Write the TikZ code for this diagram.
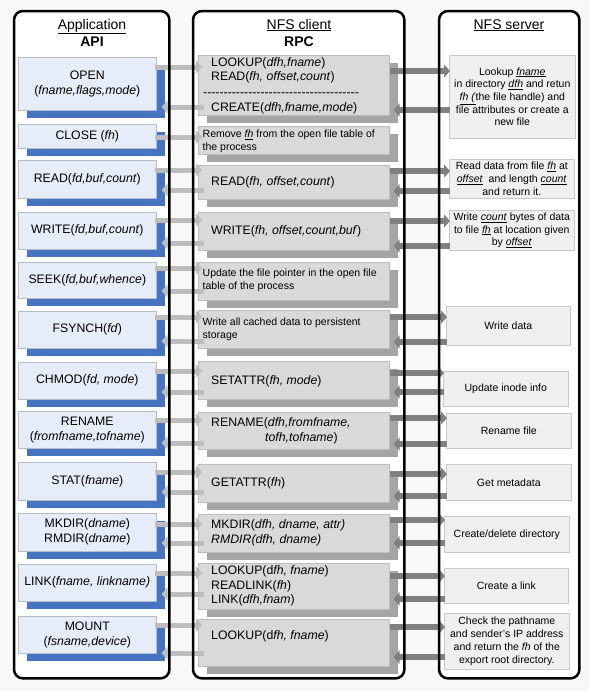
\documentclass[tikz,border=0pt]{standalone}
\usepackage{fontspec}
\setmainfont{Liberation Sans}
\newfontfamily\nolig{Liberation Sans}
\usetikzlibrary{arrows.meta,shadows}
\definecolor{bgc}{HTML}{F8F8F8}
\definecolor{apifill}{HTML}{E7EDF8}
\definecolor{apiline}{HTML}{B4BCCB}
\definecolor{apishadow}{HTML}{4674C1}
\definecolor{clifill}{HTML}{D9D9D9}
\definecolor{cliline}{HTML}{BDBDBD}
\definecolor{clishadow}{HTML}{A5A5A5}
\definecolor{srvfill}{HTML}{EFEFEF}
\definecolor{srvline}{HTML}{C9C9C9}
\definecolor{arrlight}{HTML}{BDBDBD}
\definecolor{arrdark}{HTML}{808080}
\newcommand\fMain{\fontsize{12.3pt}{15pt}\selectfont}
\newcommand\fCli{\fontsize{12.3pt}{14.6pt}\selectfont}
\newcommand\fSmall{\fontsize{10.5pt}{12.7pt}\selectfont}
\newcommand\fHead{\fontsize{14pt}{16pt}\selectfont}
\newcommand\boxat[7]{\node[#1, anchor=north west, minimum width=#4-#2, minimum height=#5-#3] (#6) at (#2,#3) {#7};}
\begin{document}
\begin{tikzpicture}[x=1pt,y=-1pt,
  panelbg/.style={fill=white, rounded corners=9pt, inner sep=0pt, anchor=north west},
  panelline/.style={draw=black, line width=2.5pt, rounded corners=9pt},
  head/.style={font=\fHead, inner sep=0pt, anchor=base},
  apibox/.style={draw=apiline, fill=apifill, line width=0.6pt, inner sep=0pt, align=center, font=\fMain,
    general shadow={fill=apishadow, shadow xshift=8.5pt, shadow yshift=-8pt}},
  clibox/.style={draw=cliline, fill=clifill, line width=0.6pt, inner sep=0pt,
    general shadow={fill=clishadow, shadow xshift=8.5pt, shadow yshift=-7.5pt}},
  srvbox/.style={draw=srvline, fill=srvfill, line width=0.6pt, inner sep=0pt, align=center, font=\fSmall},
  ctext/.style={anchor=west, inner sep=0pt, align=left, font=\fCli},
  cstext/.style={anchor=west, inner sep=0pt, align=left, font=\fSmall},
  larr/.style={draw=arrlight, line width=5pt, -{Triangle[width=13pt,length=6pt]}},
  darr/.style={draw=arrdark, line width=6pt, -{Triangle[width=13pt,length=6pt]}},
  fwdL/.style={larr, shorten <=-2pt, shorten >=-4pt},
  bckL/.style={larr, shorten <=-6pt, shorten >=5pt},
  fwdD/.style={darr, shorten >=-1pt},
  bckD/.style={darr, shorten <=-1pt, shorten >=4pt}
]
\path[use as bounding box, fill=bgc] (0,0) rectangle (590,691);

% panels (background)
\node[panelbg, minimum width=155, minimum height=667] (p1) at (14,11) {};
\node[panelbg, minimum width=211, minimum height=667] (p2) at (193,11) {};
\node[panelbg, minimum width=140, minimum height=667] (p3) at (439,11) {};

% headers
\node[head] (h1) at (92,29) {\underline{Application}};
\node[head] (h1b) at (92,46) {\textbf{API}};
\node[head] (h2) at (299,29) {\underline{NFS client}};
\node[head] (h2b) at (299,46) {\textbf{RPC}};
\node[head] (h3) at (509,29) {\underline{NFS server}};

% API boxes
\boxat{apibox}{18}{57}{156}{110}{a1}{OPEN\\(\textit{fname,flags,mode})}
\boxat{apibox}{18}{124}{156}{148}{a2}{CLOSE (\textit{fh})}
\boxat{apibox}{18}{160}{156}{198}{a3}{READ(\textit{fd,buf,count})}
\boxat{apibox}{18}{212}{156}{249}{a4}{WRITE(\textit{fd,buf,count})}
\boxat{apibox}{18}{262}{156}{298}{a5}{SEEK(\textit{fd,buf,whence})}
\boxat{apibox}{18}{311}{156}{348}{a6}{FSYNCH(\textit{fd})}
\boxat{apibox}{18}{362}{156}{399}{a7}{CHMOD(\textit{fd, mode})}
\boxat{apibox}{18}{411}{156}{448}{a8}{RENAME\\(\textit{fromfname,tofname})}
\boxat{apibox}{18}{462}{156}{500}{a9}{STAT(\textit{fname})}
\boxat{apibox}{18}{513}{156}{551}{a10}{MKDIR(\textit{dname})\\RMDIR(\textit{dname})}
\boxat{apibox}{18}{564}{156}{601}{a11}{LINK(\textit{fname, linkname)}}
\boxat{apibox}{18}{616}{156}{653}{a12}{MOUNT\\(\textit{fsname,device})}

% client boxes
\boxat{clibox}{198}{55}{389}{115}{c1}{}
\boxat{clibox}{198}{126}{389}{154}{c2}{}
\boxat{clibox}{198}{165}{389}{199}{c3}{}
\boxat{clibox}{198}{212}{389}{250}{c4}{}
\boxat{clibox}{198}{262}{389}{300}{c5}{}
\boxat{clibox}{198}{310}{389}{348}{c6}{}
\boxat{clibox}{198}{361}{389}{399}{c7}{}
\boxat{clibox}{198}{412}{389}{449}{c8}{}
\boxat{clibox}{198}{464}{389}{502}{c9}{}
\boxat{clibox}{198}{514}{389}{552}{c10}{}
\boxat{clibox}{198}{563}{389}{609}{c11}{}
\boxat{clibox}{198}{619}{389}{666}{c12}{}

% client texts
\node[ctext] (t1a) at (211,70.5) {LOOKUP(\textit{dfh,fname})\\READ(\textit{fh, offset,count})};
\node[inner sep=0pt, anchor=base west, font=\fCli\nolig] (t1d) at (203,96.3) {--------------------------------------};
\node[ctext] (t1b) at (211,108) {CREATE(\textit{dfh,fname,mode})};
\node[cstext] (t2) at (202.5,141) {Remove \underline{\textit{fh}} from the open file table of\\the process};
\node[ctext] (t3) at (211,182) {READ(\textit{fh, offset,count})};
\node[ctext] (t4) at (211,231) {WRITE(\textit{fh, offset,count,buf})};
\node[cstext] (t5) at (202.5,280.5) {Update the file pointer in the open file\\table of the process};
\node[cstext] (t6) at (202.5,329) {Write all cached data to persistent\\storage};
\node[ctext] (t7) at (211,381) {SETATTR(\textit{fh, mode})};
\node[ctext] (t8) at (211,431) {RENAME(\textit{dfh,fromfname,}\\\hspace*{54pt}\textit{tofh,tofname})};
\node[ctext] (t9) at (211,483) {GETATTR(\textit{fh})};
\node[ctext] (t10) at (211,533) {MKDIR(\textit{dfh, dname, attr)}\\\textit{RMDIR(dfh, dname)}};
\node[ctext] (t11) at (211,586) {LOOKUP(d\textit{fh, fname})\\READLINK(\textit{fh})\\LINK(\textit{dfh,fnam})};
\node[ctext] (t12) at (211,636) {LOOKUP(d\textit{fh, fname})};

% server boxes
\boxat{srvbox}{449}{55}{575}{138}{s1}{Lookup \underline{\textit{fname}}\\in directory \underline{\textit{dfh}} and retun\\\underline{\textit{fh (}}the file handle) and\\file attributes or create a\\new file}
\boxat{srvbox}{449}{159}{574}{198}{s3}{Read data from file \underline{\textit{fh}} at\\\underline{\textit{offset}}\ \ and length \underline{\textit{count}}\\and return it.}
\boxat{srvbox}{449}{210}{574}{250}{s4}{Write \underline{\textit{count}} bytes of data\\to file \underline{\textit{fh}} at location given\\by \underline{\textit{offset}}}
\boxat{srvbox}{446}{306}{570}{345}{s6}{Write data}
\boxat{srvbox}{443}{371}{568}{406}{s7}{Update inode info}
\boxat{srvbox}{446}{413}{571}{448}{s8}{Rename file}
\boxat{srvbox}{446}{464}{571}{500}{s9}{Get metadata}
\boxat{srvbox}{444}{516}{569}{552}{s10}{Create/delete directory}
\boxat{srvbox}{444}{568}{568}{603}{s11}{Create a link}
\boxat{srvbox}{444}{613}{569}{669}{s12}{Check the pathname\\and sender's IP address\\and return the \textit{fh} of the\\export root directory.}

% API <-> client arrows
\draw[fwdL] (a1.east |- 0,67) -- (c1.west |- 0,67);
\draw[bckL] (c1.west |- 0,107) -- (a1.east |- 0,107);
\draw[fwdL] (a2.east |- 0,137) -- (c2.west |- 0,137);
\draw[fwdL] (a3.east |- 0,170) -- (c3.west |- 0,170);
\draw[bckL] (c3.west |- 0,190) -- (a3.east |- 0,190);
\draw[fwdL] (a4.east |- 0,220) -- (c4.west |- 0,220);
\draw[bckL] (c4.west |- 0,243) -- (a4.east |- 0,243);
\draw[fwdL] (a5.east |- 0,268) -- (c5.west |- 0,268);
\draw[bckL] (c5.west |- 0,291) -- (a5.east |- 0,291);
\draw[fwdL] (a6.east |- 0,317) -- (c6.west |- 0,317);
\draw[bckL] (c6.west |- 0,341) -- (a6.east |- 0,341);
\draw[fwdL] (a7.east |- 0,371) -- (c7.west |- 0,371);
\draw[bckL] (c7.west |- 0,392) -- (a7.east |- 0,392);
\draw[fwdL] (a8.east |- 0,420) -- (c8.west |- 0,420);
\draw[bckL] (c8.west |- 0,443) -- (a8.east |- 0,443);
\draw[fwdL] (a9.east |- 0,472) -- (c9.west |- 0,472);
\draw[bckL] (c9.west |- 0,492) -- (a9.east |- 0,492);
\draw[fwdL] (a10.east |- 0,524) -- (c10.west |- 0,524);
\draw[bckL] (c10.west |- 0,543) -- (a10.east |- 0,543);
\draw[fwdL] (a11.east |- 0,573) -- (c11.west |- 0,573);
\draw[bckL] (c11.west |- 0,594) -- (a11.east |- 0,594);
\draw[fwdL] (a12.east |- 0,625) -- (c12.west |- 0,625);
\draw[bckL] (c12.west |- 0,653) -- (a12.east |- 0,653);

% client <-> server arrows
\draw[fwdD] (c1.east |- 0,71) -- (s1.west |- 0,71);
\draw[bckD] (s1.west |- 0,110) -- (c1.east |- 0,110);
\draw[fwdD] (c3.east |- 0,171) -- (s3.west |- 0,171);
\draw[bckD] (s3.west |- 0,191) -- (c3.east |- 0,191);
\draw[fwdD] (c4.east |- 0,221) -- (s4.west |- 0,221);
\draw[bckD] (s4.west |- 0,246) -- (c4.east |- 0,246);
\draw[fwdD] (c6.east |- 0,317) -- (s6.west |- 0,317);
\draw[bckD] (s6.west |- 0,342) -- (c6.east |- 0,342);
\draw[fwdD] (c7.east |- 0,373) -- (s7.west |- 0,373);
\draw[bckD] (s7.west |- 0,392) -- (c7.east |- 0,392);
\draw[fwdD] (c8.east |- 0,418) -- (s8.west |- 0,418);
\draw[bckD] (s8.west |- 0,444) -- (c8.east |- 0,444);
\draw[fwdD] (c9.east |- 0,474) -- (s9.west |- 0,474);
\draw[bckD] (s9.west |- 0,496) -- (c9.east |- 0,496);
\draw[fwdD] (c10.east |- 0,520) -- (s10.west |- 0,520);
\draw[bckD] (s10.west |- 0,543) -- (c10.east |- 0,543);
\draw[fwdD] (c11.east |- 0,576) -- (s11.west |- 0,576);
\draw[bckD] (s11.west |- 0,599) -- (c11.east |- 0,599);
\draw[fwdD] (c12.east |- 0,627) -- (s12.west |- 0,627);
\draw[bckD] (s12.west |- 0,657) -- (c12.east |- 0,657);

% panel borders on top
\draw[panelline] (p1.north west) rectangle (p1.south east);
\draw[panelline] (p2.north west) rectangle (p2.south east);
\draw[panelline] (p3.north west) rectangle (p3.south east);
\end{tikzpicture}
\end{document}
